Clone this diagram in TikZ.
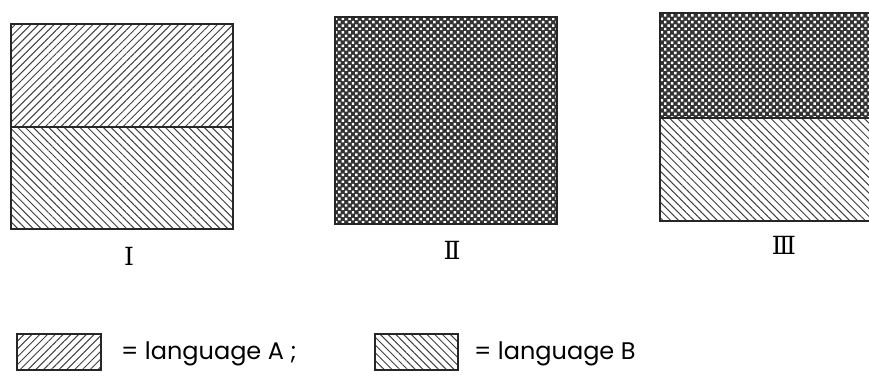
\documentclass[tikz,border=0pt]{standalone}
\usepackage{fontspec}
\setmainfont{Poppins}
\newfontfamily\romfont{DejaVu Serif}
\usetikzlibrary{patterns.meta}
\begin{document}
\begin{tikzpicture}[x=1pt,y=-1pt,
  frame/.style={draw=black!85, line width=2.5pt},
  divider/.style={draw=black!85, line width=2pt},
  legframe/.style={draw=black!85, line width=1.5pt},
  langA/.style={pattern={Lines[angle=45,distance=5.5pt,line width=1pt]}, pattern color=black!75},
  langB/.style={pattern={Lines[angle=-45,distance=5.5pt,line width=1pt]}, pattern color=black!75},
  mixed/.style={preaction={fill=black!80}, pattern={Dots[angle=45,distance=4.8pt,radius=1.75pt]}, pattern color=white},
  numeral/.style={font=\romfont\fontsize{25}{27}\selectfont, inner sep=0pt},
  legtext/.style={font=\fontsize{24}{28}\selectfont, anchor=west, inner sep=0pt}]
\useasboundingbox (0,0) rectangle (869,382);
% Box I
\path[langA] (11,24) rectangle (233,127);
\path[langB] (11,127) rectangle (233,229);
\draw[divider] (11,127) -- (233,127);
\draw[frame] (11,24) rectangle (233,229);
% Box II
\path[mixed] (335,17) rectangle (557,224);
\draw[frame] (335,17) rectangle (557,224);
% Box III
\path[mixed] (660,13) rectangle (872,118);
\path[langB] (660,118) rectangle (872,221);
\draw[divider] (660,118) -- (872,118);
\draw[frame] (872,13) -- (660,13) -- (660,221) -- (872,221);
% numerals
\node[numeral] (n1) at (129,256) {Ⅰ};
\node[numeral] (n2) at (452,250) {Ⅱ};
\node[numeral] (n3) at (784,245) {Ⅲ};
% legend
\path[langA] (17,334) rectangle (101,370);
\draw[legframe] (17,334) rectangle (101,370);
\node[legtext] (la) at (121,354) {= language A ;};
\path[langB] (375,334) rectangle (458,370);
\draw[legframe] (375,334) rectangle (458,370);
\node[legtext] (lb) at (474,354) {= language B};
\end{tikzpicture}
\end{document}
